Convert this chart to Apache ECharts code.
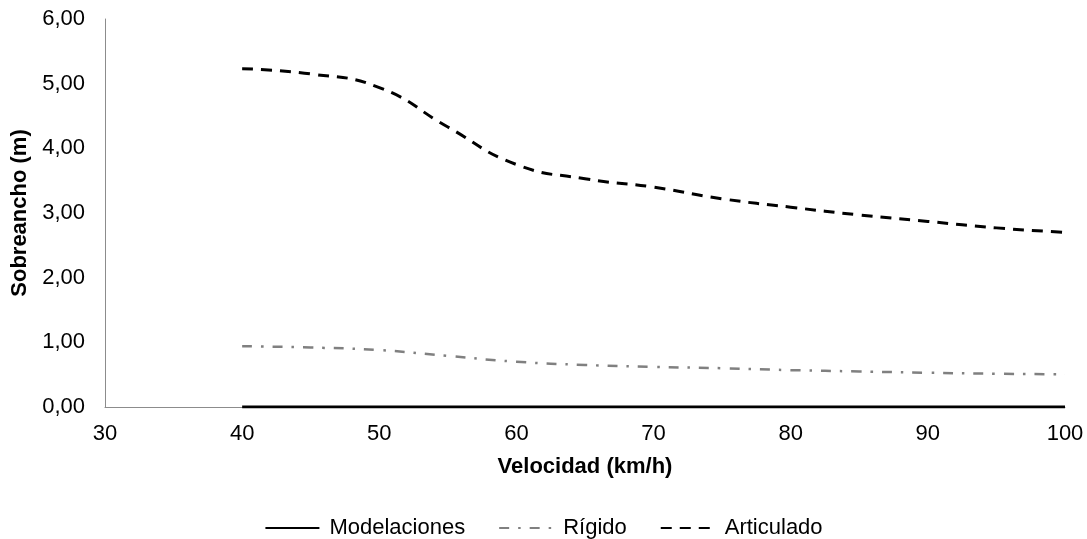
<!DOCTYPE html>
<html>
<head>
<meta charset="utf-8">
<script src="https://cdn.jsdelivr.net/npm/echarts@6/dist/echarts.min.js"></script>
<style>
html,body{margin:0;padding:0;background:#fff;}
#chart{width:1087px;height:539px;}
</style>
</head>
<body>
<div id="chart"></div>
<script>
const velocidad = [40, 45, 50, 55, 60, 65, 70, 75, 80, 85, 90, 95, 100];
const modelaciones = [0, 0, 0, 0, 0, 0, 0, 0, 0, 0, 0, 0, 0];
const rigido = [0.94, 0.92, 0.88, 0.79, 0.70, 0.65, 0.62, 0.60, 0.57, 0.55, 0.53, 0.515, 0.505];
const articulado = [5.23, 5.15, 4.94, 4.33, 3.75, 3.53, 3.40, 3.22, 3.09, 2.97, 2.87, 2.77, 2.70];
const seriesNames = ['Modelaciones', 'Rígido', 'Articulado'];
const xTitle = 'Velocidad (km/h)';
const yTitle = 'Sobreancho (m)';

const FONT = '"Liberation Sans", Arial, sans-serif';
const pair = (arr) => velocidad.map((v, i) => [v, arr[i]]);

const chart = echarts.init(document.getElementById('chart'), null, {renderer: 'canvas'});
chart.setOption({
  animation: false,
  backgroundColor: '#ffffff',
  textStyle: {fontFamily: FONT},
  grid: {left: 105, right: 22, top: 19, bottom: 132, containLabel: false},
  legend: {
    data: seriesNames,
    left: 'center',
    top: 512,
    itemWidth: 54,
    itemHeight: 14,
    itemGap: 33,
    itemStyle: {opacity: 0},
    textStyle: {fontFamily: FONT, fontSize: 22, color: '#000', padding: [0, 0, 0, 5]}
  },
  xAxis: {
    type: 'value',
    min: 30, max: 100, interval: 10,
    name: xTitle,
    nameLocation: 'middle',
    nameGap: 49,
    nameTextStyle: {fontFamily: FONT, fontSize: 22, fontWeight: 'bold', color: '#000'},
    axisLine: {show: true, onZero: false, lineStyle: {color: '#8c8c8c', width: 1}},
    axisTick: {show: false},
    splitLine: {show: false},
    axisLabel: {fontFamily: FONT, fontSize: 22, color: '#000', margin: 16}
  },
  yAxis: {
    type: 'value',
    min: 0, max: 6, interval: 1,
    name: yTitle,
    nameLocation: 'middle',
    nameGap: 65,
    nameRotate: 90,
    nameTextStyle: {fontFamily: FONT, fontSize: 22, fontWeight: 'bold', color: '#000'},
    axisLine: {show: true, lineStyle: {color: '#8c8c8c', width: 1}},
    axisTick: {show: false},
    splitLine: {show: false},
    axisLabel: {
      fontFamily: FONT, fontSize: 22, color: '#000', margin: 20,
      formatter: (v) => v.toFixed(2).replace('.', ',')
    }
  },
  series: [
    {
      name: seriesNames[0], type: 'line', data: pair(modelaciones),
      symbol: 'none', smooth: true, z: 3,
      lineStyle: {color: '#000', width: 3, type: 'solid'},
      itemStyle: {color: '#000'}
    },
    {
      name: seriesNames[1], type: 'line', data: pair(rigido),
      symbol: 'none', smooth: true, z: 2,
      lineStyle: {color: '#808080', width: 2.5, type: [10, 9, 2.5, 9], cap: 'butt'},
      itemStyle: {color: '#808080'}
    },
    {
      name: seriesNames[2], type: 'line', data: pair(articulado),
      symbol: 'none', smooth: true, z: 2,
      lineStyle: {color: '#000', width: 3, type: [11, 8], cap: 'butt'},
      itemStyle: {color: '#000'}
    }
  ]
});
</script>
</body>
</html>
